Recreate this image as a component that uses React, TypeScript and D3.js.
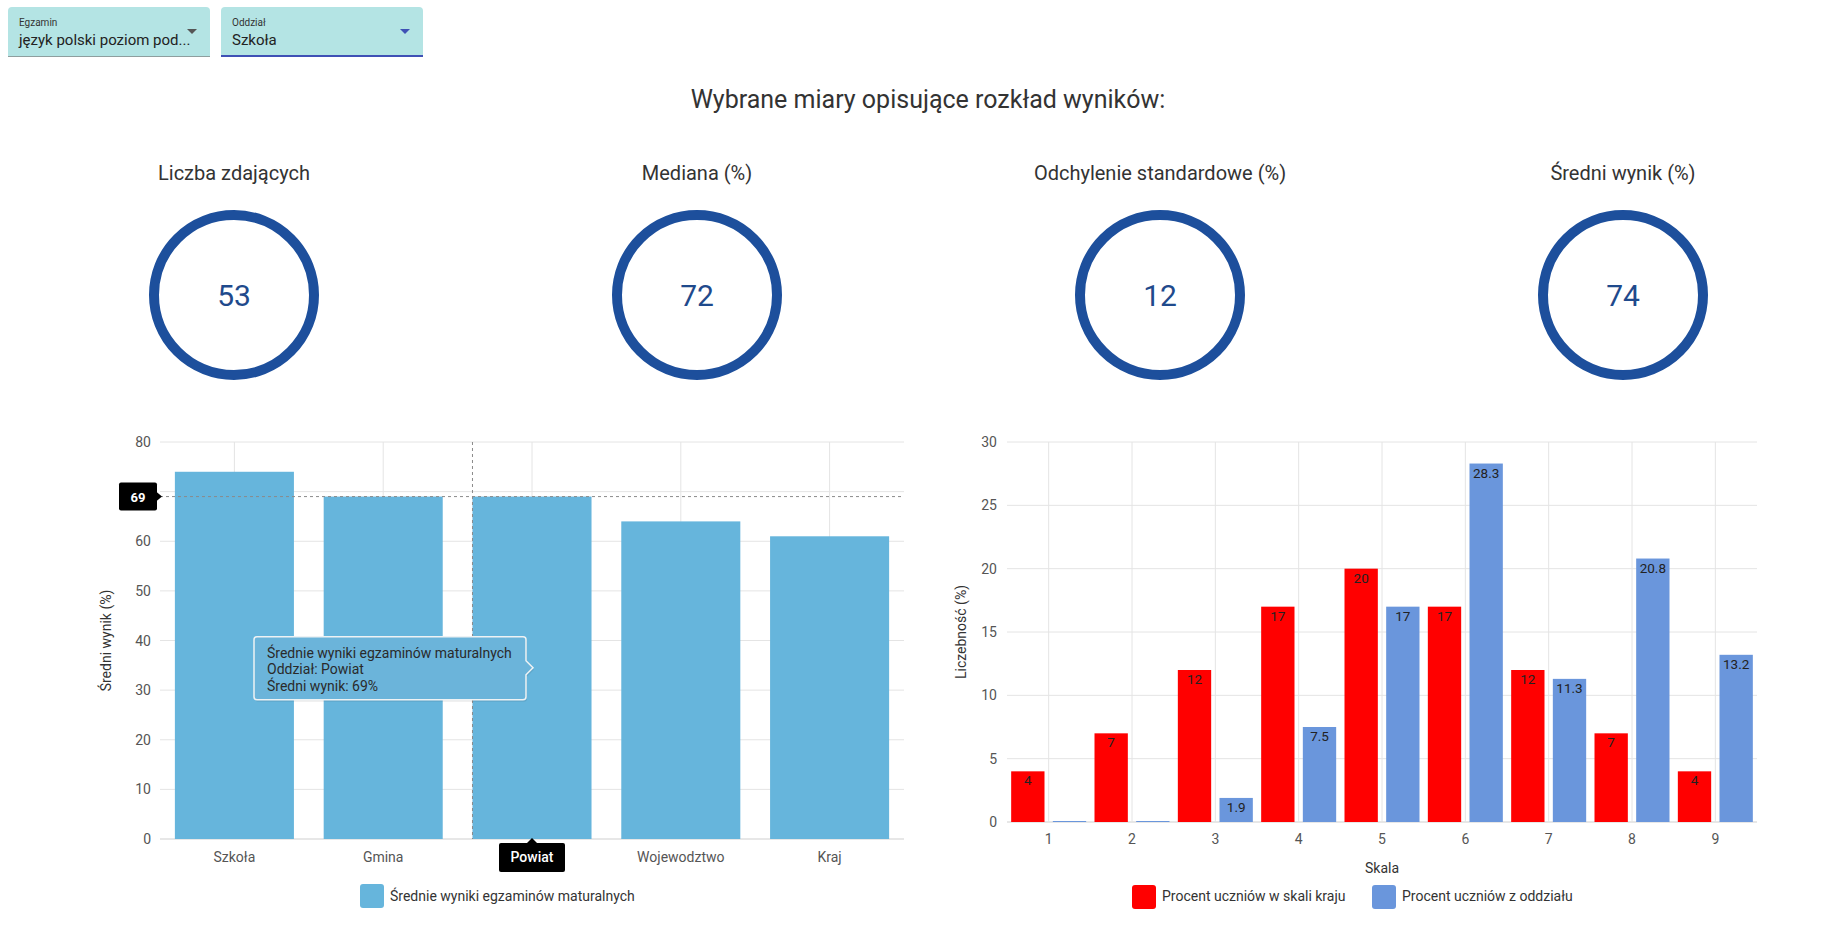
import React from "react";
import * as d3 from "d3";

const W = 1847;
const H = 944;
const FONT = "Roboto, 'Noto Sans', sans-serif";

// dropdowns
const filterLabels = ["Egzamin", "Oddział"];
const filterValues = ["język polski poziom pod...", "Szkoła"];

// summary circles
const pageTitle = "Wybrane miary opisujące rozkład wyników:";
const statLabels = ["Liczba zdających", "Mediana (%)", "Odchylenie standardowe (%)", "Średni wynik (%)"];
const statValues = [53, 72, 12, 74];

// left chart
const groupNames = ["Szkoła", "Gmina", "Powiat", "Wojewodztwo", "Kraj"];
const groupMeans = [74, 69, 69, 64, 61];
const meanTicks = [0, 10, 20, 30, 40, 50, 60, 70, 80];
const meanSeriesName = "Średnie wyniki egzaminów maturalnych";
const hoveredGroup = "Powiat";

// right chart
const scaleSteps = ["1", "2", "3", "4", "5", "6", "7", "8", "9"];
const countryPct = [4, 7, 12, 17, 20, 17, 12, 7, 4];
const classPct = [0, 0, 1.9, 7.5, 17, 28.3, 11.3, 20.8, 13.2];
const freqTicks = [0, 5, 10, 15, 20, 25, 30];
const seriesNames = ["Procent uczniów w skali kraju", "Procent uczniów z oddziału"];
const seriesColors = ["#ff0000", "#6a96dc"];

const BAR_BLUE = "#66b5dc";
const GRID = "#e4e4e4";
const TICK = "#555";

function Dropdowns() {
  const boxes = [
    { x: 8, w: 202, line: "#8e9e9e", lw: 1, arrow: "#555" },
    { x: 221, w: 202, line: "#3f51b5", lw: 2, arrow: "#3f51b5" },
  ];
  return (
    <g>
      {boxes.map((b, i) => (
        <g key={i}>
          <path
            d={`M${b.x},57 V11 Q${b.x},7 ${b.x + 4},7 H${b.x + b.w - 4} Q${b.x + b.w},7 ${b.x + b.w},11 V57 Z`}
            fill="#b4e4e4"
          />
          <rect x={b.x} y={57 - b.lw} width={b.w} height={b.lw} fill={b.line} />
          <text x={b.x + 11} y={26} fontSize={10} fill="#333">{filterLabels[i]}</text>
          <text x={b.x + 11} y={45} fontSize={15} fill="#222">{filterValues[i]}</text>
          <path d={`M${b.x + b.w - 23},29 h10 l-5,5 Z`} fill={b.arrow} />
        </g>
      ))}
    </g>
  );
}

function Stats() {
  const cx = d3.scalePoint().domain(statLabels).range([234, 1623]);
  return (
    <g>
      <text x={928} y={108} textAnchor="middle" fontSize={25} fill="#333">{pageTitle}</text>
      {statLabels.map((l, i) => (
        <g key={l} transform={`translate(${cx(l)},0)`}>
          <text y={180} textAnchor="middle" fontSize={20} fill="#333">{l}</text>
          <circle cy={295} r={80} fill="none" stroke="#1d4f9c" strokeWidth={10} />
          <text y={306} textAnchor="middle" fontSize={30} fill="#1f4a8c">{statValues[i]}</text>
        </g>
      ))}
    </g>
  );
}

function MeansChart() {
  const left = 160, right = 904, top = 442, bottom = 839;
  const x = d3.scaleBand().domain(groupNames).range([left, right]).paddingInner(0.2).paddingOuter(0.1);
  const y = d3.scaleLinear().domain([0, 80]).range([bottom, top]);
  const hi = groupNames.indexOf(hoveredGroup);
  const hv = groupMeans[hi];
  const hx = x(hoveredGroup) as number;
  const bw = x.bandwidth();

  // tooltip geometry
  const tipX = hx + bw / 2 + 1;
  const tipY = y(hv / 2);
  const tr = tipX - 7, tl = tr - 272, tt = tipY - 31, tb = tipY + 32;
  const tipPath = `M${tl + 3},${tt} H${tr - 3} Q${tr},${tt} ${tr},${tt + 3} V${tipY - 7} L${tipX},${tipY} L${tr},${tipY + 7} V${tb - 3} Q${tr},${tb} ${tr - 3},${tb} H${tl + 3} Q${tl},${tb} ${tl},${tb - 3} V${tt + 3} Q${tl},${tt} ${tl + 3},${tt} Z`;

  const yh = y(hv);
  const cxh = hx + bw / 2;

  return (
    <g>
      {meanTicks.map((t) => (
        <g key={t}>
          <line x1={left} x2={right} y1={y(t)} y2={y(t)} stroke={t === 0 ? "#cfcfcf" : GRID} />
          {/* tick labels hidden under the crosshair value box are not drawn */}
          {Math.abs(y(t) - yh) < 16 ? null : (
            <text x={151} y={y(t) + 5} textAnchor="end" fontSize={14} fill={TICK}>{t}</text>
          )}
        </g>
      ))}
      {groupNames.map((g) => (
        <line key={g} x1={(x(g) as number) + bw / 2} x2={(x(g) as number) + bw / 2} y1={top} y2={bottom} stroke={GRID} />
      ))}
      {groupNames.map((g, i) => (
        <rect key={g} x={x(g)} y={y(groupMeans[i])} width={bw} height={bottom - y(groupMeans[i])} fill={BAR_BLUE} />
      ))}
      <line x1={left} x2={right} y1={yh} y2={yh} stroke="#8a8a8a" strokeDasharray="3,3" />
      <line x1={hx} x2={hx} y1={top} y2={bottom} stroke="#8a8a8a" strokeDasharray="3,3" />

      {groupNames.map((g) =>
        g === hoveredGroup ? null : (
          <text key={g} x={(x(g) as number) + bw / 2} y={862} textAnchor="middle" fontSize={14} fill={TICK}>{g}</text>
        )
      )}

      {/* crosshair labels */}
      <rect x={left - 41} y={yh - 14} width={38} height={28} rx={2} fill="#000" />
      <path d={`M${left - 4},${yh - 5} L${left + 2},${yh} L${left - 4},${yh + 5} Z`} fill="#000" />
      <text x={left - 22} y={yh + 5} textAnchor="middle" fontSize={13} fontWeight={700} fill="#fff">{hv}</text>

      <rect x={cxh - 33} y={bottom + 4} width={66} height={29} rx={2} fill="#000" />
      <path d={`M${cxh - 6},${bottom + 5} L${cxh},${bottom - 1} L${cxh + 6},${bottom + 5} Z`} fill="#000" />
      <text x={cxh} y={bottom + 23} textAnchor="middle" fontSize={14} fontWeight={500} fill="#fff">{hoveredGroup}</text>

      {/* tooltip */}
      <path d={tipPath} fill="#000" opacity={0.08} transform="translate(1,2)" />
      <path d={tipPath} fill="#6bb4da" stroke="#eef2f4" strokeWidth={1.5} />
      <text x={tl + 13} y={tipY - 10} fontSize={14} fill="#2a2a2a">{meanSeriesName}</text>
      <text x={tl + 13} y={tipY + 6.5} fontSize={14} fill="#2a2a2a">{`Oddział: ${hoveredGroup}`}</text>
      <text x={tl + 13} y={tipY + 23} fontSize={14} fill="#2a2a2a">{`Średni wynik: ${hv}%`}</text>

      <text transform={`translate(111,${(top + bottom) / 2}) rotate(-90)`} textAnchor="middle" fontSize={14} fill="#333">Średni wynik (%)</text>

      <rect x={360} y={884} width={24} height={24} rx={3} fill={BAR_BLUE} />
      <text x={390} y={901} fontSize={14} fill="#333">{meanSeriesName}</text>
    </g>
  );
}

function DistributionChart() {
  const left = 1007, right = 1757, top = 442, bottom = 822;
  const x = d3.scaleBand().domain(scaleSteps).range([left, right]);
  const xs = d3.scaleBand().domain(seriesNames).range([0, x.bandwidth()]).paddingInner(0.2).paddingOuter(0.1);
  const y = d3.scaleLinear().domain([0, 30]).range([bottom, top]);
  const series = [countryPct, classPct];
  const fmt = (v: number) => (Number.isInteger(v) ? String(v) : v.toFixed(1));
  const legendX = [1132, 1372];

  return (
    <g>
      {freqTicks.map((t) => (
        <g key={t}>
          <line x1={left} x2={right} y1={y(t)} y2={y(t)} stroke={t === 0 ? "#cfcfcf" : GRID} />
          <text x={997} y={y(t) + 5} textAnchor="end" fontSize={14} fill={TICK}>{t}</text>
        </g>
      ))}
      {scaleSteps.map((s) => (
        <g key={s}>
          <line x1={(x(s) as number) + x.bandwidth() / 2} x2={(x(s) as number) + x.bandwidth() / 2} y1={top} y2={bottom} stroke={GRID} />
          <text x={(x(s) as number) + x.bandwidth() / 2} y={844} textAnchor="middle" fontSize={14} fill={TICK}>{s}</text>
        </g>
      ))}
      {scaleSteps.map((s, i) => (
        <g key={s} transform={`translate(${x(s)},0)`}>
          {seriesNames.map((n, k) => {
            const v = series[k][i];
            const yv = y(v);
            const h = Math.max(1, bottom - yv);
            return (
              <g key={n}>
                <rect x={xs(n)} y={bottom - h} width={xs.bandwidth()} height={h} fill={seriesColors[k]} />
                {v > 0 ? (
                  <text x={(xs(n) as number) + xs.bandwidth() / 2} y={yv + 14} textAnchor="middle" fontSize={13.5} fill="#222">{fmt(v)}</text>
                ) : null}
              </g>
            );
          })}
        </g>
      ))}
      <text transform={`translate(966,${(top + bottom) / 2}) rotate(-90)`} textAnchor="middle" fontSize={14} fill="#333">Liczebność (%)</text>
      <text x={(left + right) / 2} y={873} textAnchor="middle" fontSize={14} fill="#333">Skala</text>
      {seriesNames.map((n, k) => (
        <g key={n}>
          <rect x={legendX[k]} y={885} width={24} height={24} rx={3} fill={seriesColors[k]} />
          <text x={legendX[k] + 30} y={901} fontSize={14} fill="#333">{n}</text>
        </g>
      ))}
    </g>
  );
}

export default function App() {
  return (
    <svg
      width={W}
      height={H}
      viewBox={`0 0 ${W} ${H}`}
      style={{ position: "absolute", left: 0, top: 0, display: "block", background: "#fff" }}
      fontFamily={FONT}
    >
      <Dropdowns />
      <Stats />
      <MeansChart />
      <DistributionChart />
    </svg>
  );
}
